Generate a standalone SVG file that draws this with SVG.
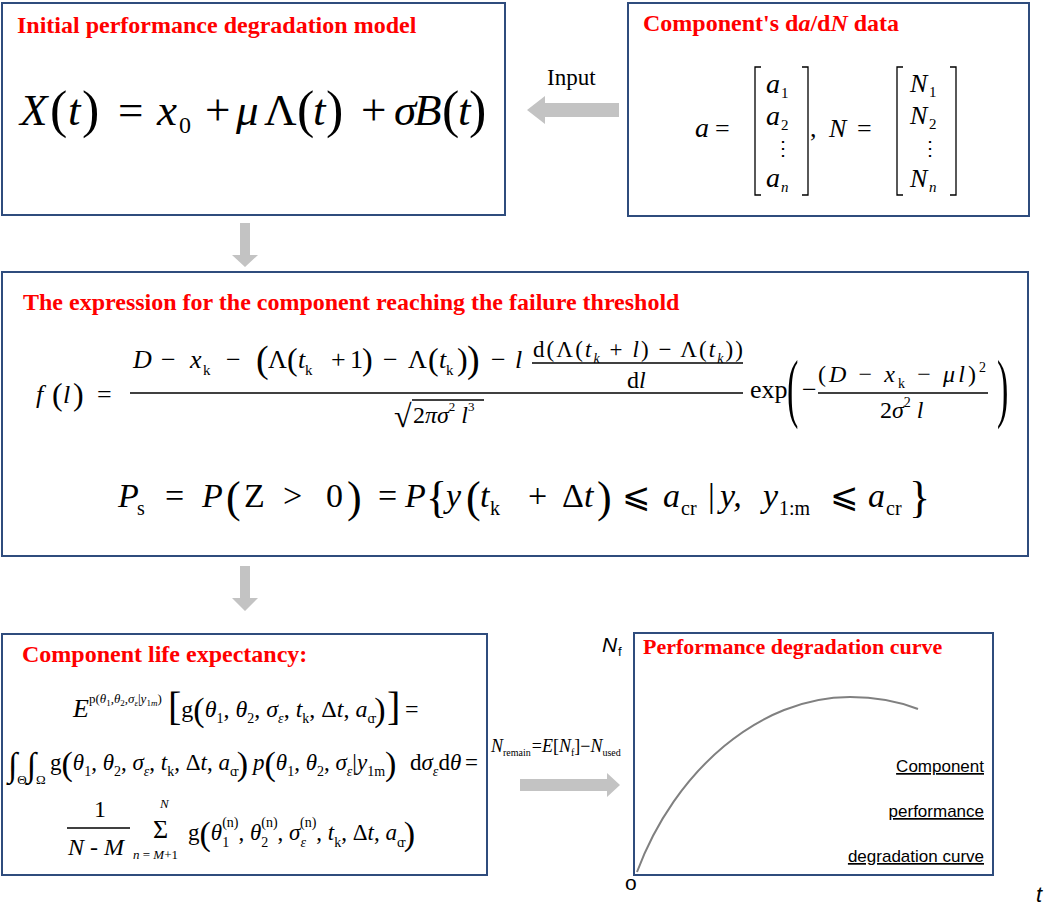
<svg xmlns="http://www.w3.org/2000/svg" width="1052" height="906" viewBox="0 0 1052 906">
<style>
.s{font-family:"Liberation Serif","DejaVu Serif",serif;fill:#000}
.i{font-style:italic}
.h{font-family:"Liberation Serif",serif;font-weight:bold;fill:#f00;font-size:24px}
.box{fill:#fff;stroke:#2f4c7d;stroke-width:2}
.arr{fill:#c3c3c3}
.ln{stroke:#000;stroke-width:1.3;fill:none}
.sa{font-family:"Liberation Sans",Arial,sans-serif;fill:#000}
</style>
<rect x="0" y="0" width="1052" height="906" fill="#fff"/>

<g id="node-initial-model">
<rect class="box" x="2" y="3" width="503" height="212"/>
<text class="h" x="17" y="33">Initial performance degradation model</text>
<text class="s" font-size="45"><tspan class="i" x="20" y="125">X</tspan><tspan x="50" y="127" font-size="52">(</tspan><tspan class="i" x="68" y="125">t</tspan><tspan x="82" y="127" font-size="52">)</tspan><tspan x="118" y="125">=</tspan><tspan class="i" x="157">x</tspan><tspan x="179" y="133" font-size="24">0</tspan><tspan x="205" y="125">+</tspan><tspan class="i" x="236">μ</tspan><tspan x="264">Λ</tspan><tspan x="297" y="127" font-size="52">(</tspan><tspan class="i" x="313" y="125">t</tspan><tspan x="326" y="127" font-size="52">)</tspan><tspan x="361" y="125">+</tspan><tspan class="i" x="394">σ</tspan><tspan class="i" x="414">B</tspan><tspan x="442" y="127" font-size="52">(</tspan><tspan class="i" x="458" y="125">t</tspan><tspan x="469" y="127" font-size="52">)</tspan></text>
</g>

<g id="node-data">
<rect class="box" x="628" y="3" width="401" height="213"/>
<text class="h" x="643" y="31">Component's d<tspan font-style="italic">a</tspan>/d<tspan font-style="italic">N</tspan> data</text>
<path class="ln" d="M761,67 H755 V195 H761 M802,67 H808 V195 H802 M903,67 H897 V195 H903 M950,67 H956 V195 H950"/>
<text class="s" font-size="28"><tspan class="i" x="695" y="137">a</tspan><tspan x="715" font-size="26">=</tspan><tspan x="810" font-size="26">,</tspan><tspan class="i" x="829" font-size="26">N</tspan><tspan x="857" font-size="26">=</tspan></text>
<text class="s" font-size="28"><tspan class="i" x="766" y="93">a</tspan><tspan x="781" y="98" font-size="15">1</tspan><tspan class="i" x="766" y="125">a</tspan><tspan x="781" y="130" font-size="15">2</tspan><tspan x="773" y="155" font-size="20">⋮</tspan><tspan class="i" x="766" y="187">a</tspan><tspan class="i" x="781" y="192" font-size="15">n</tspan></text>
<text class="s" font-size="26"><tspan class="i" x="910" y="92">N</tspan><tspan x="929" y="97" font-size="15">1</tspan><tspan class="i" x="910" y="124">N</tspan><tspan x="929" y="129" font-size="15">2</tspan><tspan x="920" y="155" font-size="20">⋮</tspan><tspan class="i" x="910" y="187">N</tspan><tspan class="i" x="929" y="192" font-size="15">n</tspan></text>
</g>

<g id="node-failure-threshold">
<rect class="box" x="2" y="272" width="1026" height="284"/>
<text class="h" x="23" y="310">The expression for the component reaching the failure threshold</text>
<text class="s" font-size="26"><tspan class="i" x="36" y="403">f</tspan><tspan x="52" y="405" font-size="32">(</tspan><tspan class="i" x="63" y="403">l</tspan><tspan x="73" y="405" font-size="32">)</tspan><tspan x="97" y="403">=</tspan></text>
<line class="ln" x1="130" y1="393" x2="743" y2="393"/>
<text class="s" font-size="26"><tspan class="i" x="133" y="368">D</tspan><tspan x="161">−</tspan><tspan class="i" x="190">x</tspan><tspan x="203" y="375" font-size="15">k</tspan><tspan x="226" y="368">−</tspan><tspan x="256" y="372" font-size="38">(</tspan><tspan x="268" y="368">Λ</tspan><tspan x="287" y="370" font-size="32">(</tspan><tspan class="i" x="298" y="368">t</tspan><tspan x="305" y="375" font-size="15">k</tspan><tspan x="331" y="368">+</tspan><tspan x="350">1</tspan><tspan x="362" y="370" font-size="32">)</tspan><tspan x="383" y="368">−</tspan><tspan x="408">Λ</tspan><tspan x="428" y="370" font-size="32">(</tspan><tspan class="i" x="439" y="368">t</tspan><tspan x="446" y="375" font-size="15">k</tspan><tspan x="457" y="370" font-size="32">)</tspan><tspan x="467" y="372" font-size="38">)</tspan><tspan x="491" y="368">−</tspan><tspan class="i" x="515">l</tspan></text>
<text class="s" font-size="23" x="533" y="357" textLength="210" lengthAdjust="spacing">d(Λ(<tspan class="i">t</tspan><tspan class="i" y="363" font-size="14">k</tspan><tspan y="357"> + </tspan><tspan class="i">l</tspan><tspan>) − Λ(</tspan><tspan class="i">t</tspan><tspan class="i" y="363" font-size="14">k</tspan><tspan y="357">))</tspan></text>
<line class="ln" x1="532" y1="363" x2="743" y2="363"/>
<text class="s" font-size="24" x="627" y="388">d<tspan class="i">l</tspan></text>
<text class="s" font-size="32" x="394" y="427">√</text>
<line class="ln" x1="412" y1="400" x2="484" y2="400"/>
<text class="s" font-size="24"><tspan x="413" y="423">2</tspan><tspan class="i">πσ</tspan><tspan y="411" font-size="13">2</tspan><tspan class="i" y="423"> l</tspan><tspan y="411" font-size="13">3</tspan></text>
<text class="s" font-size="26" x="750" y="398">exp</text>
<text class="s" font-size="76" transform="translate(787,413) scale(0.45,1)">(</text>
<text class="s" font-size="26" x="802" y="398">−</text>
<text class="s" font-size="24" x="818" y="382" textLength="168" lengthAdjust="spacing">(<tspan class="i">D</tspan><tspan> − </tspan><tspan class="i">x</tspan><tspan y="388" font-size="14">k</tspan><tspan y="382"> − </tspan><tspan class="i">μl</tspan><tspan>)</tspan><tspan y="372" font-size="14">2</tspan></text>
<line class="ln" x1="818" y1="393" x2="988" y2="393"/>
<text class="s" font-size="24"><tspan x="880" y="418">2</tspan><tspan class="i">σ</tspan><tspan y="407" font-size="14">2</tspan><tspan class="i" y="418"> l</tspan></text>
<text class="s" font-size="76" transform="translate(997,413) scale(0.45,1)">)</text>
<text class="s" font-size="34"><tspan class="i" x="118" y="507">P</tspan><tspan x="137" y="515" font-size="20">s</tspan><tspan x="165" y="507">=</tspan><tspan class="i" x="202">P</tspan><tspan x="226" y="512" font-size="44">(</tspan><tspan x="244" y="507">Z</tspan><tspan x="283">&gt;</tspan><tspan x="326">0</tspan><tspan x="347" y="512" font-size="44">)</tspan><tspan x="378" y="507">=</tspan><tspan class="i" x="405">P</tspan><tspan x="426" y="512" font-size="44">{</tspan><tspan class="i" x="446" y="507">y</tspan><tspan x="466" y="512" font-size="44">(</tspan><tspan class="i" x="480" y="507">t</tspan><tspan x="490" y="515" font-size="20">k</tspan><tspan x="528" y="507">+</tspan><tspan x="562">Δ</tspan><tspan class="i">t</tspan><tspan x="597" y="512" font-size="44">)</tspan><tspan x="622" y="507">⩽</tspan><tspan class="i" x="663">a</tspan><tspan x="681" y="515" font-size="20">cr</tspan><tspan x="708" y="507">|</tspan><tspan class="i" x="720">y,</tspan><tspan class="i" x="763">y</tspan><tspan x="779" y="515" font-size="20">1:m</tspan><tspan x="830" y="507">⩽</tspan><tspan class="i" x="868">a</tspan><tspan x="886" y="515" font-size="20">cr</tspan><tspan x="909" y="512" font-size="44">}</tspan></text>
</g>

<g id="node-life-expectancy">
<rect class="box" x="2" y="634" width="485" height="241"/>
<text class="h" x="22" y="662">Component life expectancy:</text>
<text class="s" font-size="24"><tspan class="i" x="73" y="717" font-size="26">E</tspan><tspan y="703" font-size="13">p(</tspan><tspan class="i" font-size="13">θ</tspan><tspan y="706" font-size="9">1</tspan><tspan y="703" font-size="13">,</tspan><tspan class="i" font-size="13">θ</tspan><tspan y="706" font-size="9">2</tspan><tspan y="703" font-size="13">,</tspan><tspan class="i" font-size="13">σ</tspan><tspan class="i" y="706" font-size="9">ε</tspan><tspan y="703" font-size="13">|</tspan><tspan class="i" font-size="13">y</tspan><tspan y="706" font-size="9">1</tspan><tspan class="i" y="706" font-size="9">m</tspan><tspan y="703" font-size="13">)</tspan><tspan x="168" y="720" font-size="40">[</tspan><tspan y="717">g</tspan><tspan y="721" font-size="34">(</tspan><tspan class="i" y="717">θ</tspan><tspan y="723" font-size="14">1</tspan><tspan y="717">, </tspan><tspan class="i">θ</tspan><tspan y="723" font-size="14">2</tspan><tspan y="717">, </tspan><tspan class="i">σ</tspan><tspan class="i" y="723" font-size="14">ε</tspan><tspan y="717">, </tspan><tspan class="i">t</tspan><tspan y="723" font-size="14">k</tspan><tspan y="717">, Δ</tspan><tspan class="i">t</tspan><tspan>, </tspan><tspan class="i">a</tspan><tspan y="723" font-size="14" letter-spacing="-2">cr</tspan><tspan y="721" font-size="34">)</tspan><tspan x="387" y="720" font-size="40">]</tspan><tspan x="405" y="717">=</tspan></text>
<text class="s" font-size="23"><tspan x="8" y="776" font-size="34">∫</tspan><tspan y="784" font-size="13">Θ</tspan><tspan y="776" font-size="34">∫</tspan><tspan y="784" font-size="13">Ω</tspan><tspan x="50" y="770">g</tspan><tspan y="775" font-size="34">(</tspan><tspan class="i" y="770">θ</tspan><tspan y="776" font-size="14">1</tspan><tspan y="770">, </tspan><tspan class="i">θ</tspan><tspan y="776" font-size="14">2</tspan><tspan y="770">, </tspan><tspan class="i">σ</tspan><tspan class="i" y="776" font-size="14">ε</tspan><tspan y="770">, </tspan><tspan class="i">t</tspan><tspan y="776" font-size="14">k</tspan><tspan y="770">, Δ</tspan><tspan class="i">t</tspan><tspan>, </tspan><tspan class="i">a</tspan><tspan y="776" font-size="14" letter-spacing="-2">cr</tspan><tspan y="775" font-size="34">)</tspan><tspan class="i" x="253" y="770">p</tspan><tspan y="775" font-size="34">(</tspan><tspan class="i" y="770">θ</tspan><tspan y="776" font-size="14">1</tspan><tspan y="770">, </tspan><tspan class="i">θ</tspan><tspan y="776" font-size="14">2</tspan><tspan y="770">, </tspan><tspan class="i">σ</tspan><tspan class="i" y="776" font-size="14">ε</tspan><tspan y="770">|</tspan><tspan class="i">y</tspan><tspan y="776" font-size="14">1m</tspan><tspan y="775" font-size="34">)</tspan><tspan x="410" y="770">d</tspan><tspan class="i">σ</tspan><tspan class="i" y="776" font-size="14">ε</tspan><tspan y="770">d</tspan><tspan class="i">θ</tspan><tspan x="465">=</tspan></text>
<text class="s" font-size="24" x="94" y="817">1</text>
<line class="ln" x1="67" y1="828" x2="130" y2="828"/>
<text class="s" font-size="24"><tspan class="i" x="68" y="855">N</tspan><tspan> - </tspan><tspan class="i">M</tspan></text>
<text class="s" font-size="26" x="153" y="838">Σ</text>
<text class="s i" font-size="13" x="160" y="808">N</text>
<text class="s" font-size="13" x="133" y="859"><tspan class="i">n</tspan> = <tspan class="i">M</tspan>+1</text>
<text class="s" font-size="23"><tspan x="188" y="840">g</tspan><tspan y="845" font-size="34">(</tspan><tspan class="i" y="840">θ</tspan><tspan y="847" font-size="14">1</tspan><tspan dx="-7" y="827" font-size="14">(n)</tspan><tspan y="840">, </tspan><tspan class="i">θ</tspan><tspan y="847" font-size="14">2</tspan><tspan dx="-7" y="827" font-size="14">(n)</tspan><tspan y="840">, </tspan><tspan class="i">σ</tspan><tspan class="i" y="847" font-size="14">ε</tspan><tspan dx="-6" y="827" font-size="14">(n)</tspan><tspan y="840">, </tspan><tspan class="i">t</tspan><tspan y="847" font-size="14">k</tspan><tspan y="840">, Δ</tspan><tspan class="i">t</tspan><tspan>, </tspan><tspan class="i">a</tspan><tspan y="847" font-size="14" letter-spacing="-2">cr</tspan><tspan y="845" font-size="34">)</tspan></text>
</g>

<g id="node-degradation-curve">
<rect class="box" x="634" y="633" width="359" height="242"/>
<text class="h" x="643" y="654" style="font-size:22px">Performance degradation curve</text>
<path d="M637,872 C675,770 760,697 850,697 C878,697 900,702 918,709" fill="none" stroke="#808080" stroke-width="2"/>
<text class="sa" font-size="17" text-anchor="end" text-decoration="underline"><tspan x="984" y="772">Component</tspan><tspan x="984" y="817">performance</tspan><tspan x="984" y="862">degradation curve</tspan></text>
<text class="sa" font-size="21"><tspan class="i" x="602" y="652">N</tspan><tspan x="618" y="656" font-size="13">f</tspan></text>
<text class="sa" font-size="21" x="625" y="890">o</text>
<text class="sa i" font-size="22" x="1036" y="902">t</text>
</g>

<g id="connectors">
<polygon class="arr" points="527,110 545,96 545,103 619,103 619,117 545,117 545,124"/>
<polygon class="arr" points="240,223 250,223 250,255 258,255 245,267 232,255 240,255"/>
<polygon class="arr" points="240,566 250,566 250,598 258,598 245,611 232,598 240,598"/>
<polygon class="arr" points="520,779 607,779 607,773 620,785 607,797 607,791 520,791"/>
<text class="s" font-size="23" x="547" y="85">Input</text>
<text class="s" font-size="18"><tspan class="i" x="491" y="752">N</tspan><tspan y="756" font-size="10">remain</tspan><tspan y="752" dx="1">=</tspan><tspan class="i">E</tspan><tspan>[</tspan><tspan class="i">N</tspan><tspan y="756" font-size="10">f</tspan><tspan y="752">]−</tspan><tspan class="i">N</tspan><tspan y="756" font-size="10">used</tspan></text>
</g>
</svg>
